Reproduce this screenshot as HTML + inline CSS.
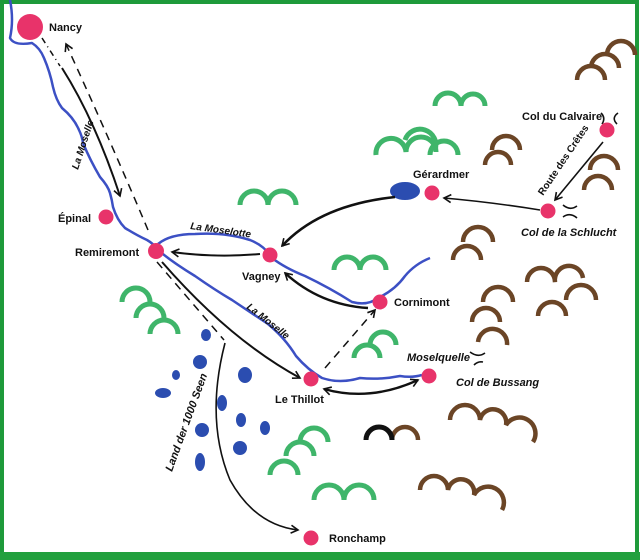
<!DOCTYPE html>
<html><head><meta charset="utf-8"><style>
html,body{margin:0;padding:0;background:#fff}
svg{display:block}
text{font-family:"Liberation Sans","DejaVu Sans",sans-serif;font-weight:bold;font-size:11px;fill:#111}
.i{font-style:italic}
.s{font-size:10px}
</style></head><body>
<svg width="640" height="560" viewBox="0 0 640 560">
<rect x="0" y="0" width="640" height="560" fill="#fff"/>
<path d="M2 560 L2 2 L637 2 L637 554 L0 554" fill="none" stroke="#1e9a3a" stroke-width="4"/>
<rect x="0" y="552" width="640" height="8" fill="#22a03e"/>
<defs>
<marker id="a" markerWidth="10" markerHeight="10" refX="8" refY="5" orient="auto" markerUnits="userSpaceOnUse">
<path d="M1 1 L8 5 L1 9" fill="none" stroke="#111" stroke-width="1.6"/></marker>
<marker id="as" markerWidth="10" markerHeight="10" refX="2" refY="5" orient="auto" markerUnits="userSpaceOnUse">
<path d="M9 1 L2 5 L9 9" fill="none" stroke="#111" stroke-width="1.6"/></marker>
</defs>
<g fill="none" stroke="#3c50c4" stroke-width="2.5" stroke-linejoin="round">
<path d="M10 0 Q14 20 10 38 Q14 46 32 43 Q40 48 44 58 Q50 72 53 87 Q56 100 62 108 Q74 118 79 130 Q82 136 83 143 Q90 160 100 177 Q108 186 110 193 Q112 200 113 207 Q117 220 125 228 Q138 236 147 240 Q154 244 158 250 Q172 262 195 276 Q215 290 232 300 Q250 312 268 324 Q285 338 296 356 Q308 370 322 378 Q340 384 360 378 Q380 380 400 376 Q412 378 422 375"/>
<path d="M158 244 Q170 234 195 234 Q225 232 250 240 Q265 246 272 258 Q285 268 305 276 Q330 288 352 302 Q368 306 378 298 Q395 290 405 276 Q415 264 430 258"/>
</g>
<g fill="#2b4db0">
<ellipse cx="206" cy="335" rx="5" ry="6"/><ellipse cx="200" cy="362" rx="7" ry="7"/>
<ellipse cx="176" cy="375" rx="4" ry="5"/><ellipse cx="163" cy="393" rx="8" ry="5"/>
<ellipse cx="245" cy="375" rx="7" ry="8"/><ellipse cx="222" cy="403" rx="5" ry="8"/>
<ellipse cx="202" cy="430" rx="7" ry="7"/><ellipse cx="241" cy="420" rx="5" ry="7"/>
<ellipse cx="265" cy="428" rx="5" ry="7"/><ellipse cx="240" cy="448" rx="7" ry="7"/>
<ellipse cx="200" cy="462" rx="5" ry="9"/>
<ellipse cx="405" cy="191" rx="15" ry="9"/>
</g>
<g fill="none" stroke="#3fb56a" stroke-width="5">
<path d="M240 205 A14 14 0 0 1 268 205 A14 14 0 0 1 296 205"/>
<path d="M435 106 A13 13 0 0 1 461 106 A12 12 0 0 1 485 106"/>
<path d="M376 155 A15 15 0 0 1 406 152 A15 15 0 0 1 436 152"/>
<path d="M405 140 A15 15 0 0 1 435 150"/>
<path d="M430 155 A14 14 0 0 1 458 155"/>
<path d="M334 270 A13 13 0 0 1 360 270 A13 13 0 0 1 386 270"/>
<path d="M122 302 A14 14 0 0 1 150 302"/><path d="M136 318 A14 14 0 0 1 164 318"/><path d="M150 334 A14 14 0 0 1 178 334"/>
<path d="M354 358 A13 13 0 0 1 380 358"/><path d="M370 345 A13 13 0 0 1 396 345"/>
<path d="M300 442 A14 14 0 0 1 328 442"/><path d="M286 456 A14 14 0 0 1 314 456"/><path d="M270 475 A14 14 0 0 1 298 475"/>
<path d="M314 500 A15 15 0 0 1 344 500 A15 15 0 0 1 374 500"/>
</g>
<g fill="none" stroke="#6b4526" stroke-width="4.5">
<path d="M577 80 A14 14 0 0 1 605 80"/><path d="M591 68 A14 14 0 0 1 619 68"/><path d="M607 55 A14 14 0 0 1 635 55"/>
<path d="M492 150 A14 14 0 0 1 520 150"/><path d="M485 165 A13 13 0 0 1 511 165"/>
<path d="M590 170 A14 14 0 0 1 618 170"/><path d="M584 190 A14 14 0 0 1 612 190"/>
<path d="M463 242 A15 15 0 0 1 493 242"/><path d="M453 260 A14 14 0 0 1 481 260"/>
<path d="M527 282 A14 14 0 0 1 555 282 A14 14 0 0 1 583 278"/>
<path d="M483 302 A15 15 0 0 1 513 302"/>
<path d="M538 316 A14 14 0 0 1 566 316"/><path d="M566 300 A15 15 0 0 1 596 300"/>
<path d="M472 322 A14 14 0 0 1 500 322"/><path d="M478 342 A14 14 0 0 1 507 345"/>
<path d="M450 420 A15 15 0 0 1 480 420 A13 13 0 0 1 506 425 A14 14 0 0 1 533 442"/>
<path d="M420 490 A14 14 0 0 1 448 490 A13 13 0 0 1 474 495 A14 14 0 0 1 502 510"/>
<path d="M392 440 A13 13 0 0 1 418 440"/>
</g>
<path d="M366 440 A13 13 0 0 1 392 440" fill="none" stroke="#111" stroke-width="5"/>
<g fill="none" stroke="#111" stroke-width="1.6">
<path d="M601 113 Q606 118 602 124"/><path d="M618 113 Q611 118 617 124"/>
<path d="M563 205 Q570 211 577 206"/><path d="M563 217 Q570 212 577 218"/>
<path d="M470 352 Q478 358 485 353"/><path d="M474 365 Q478 361 483 362"/>
</g>
<g fill="none" stroke="#111" stroke-width="2">
<path d="M62 68 Q95 120 120 196" marker-end="url(#a)"/>
<path d="M260 254 Q215 258 172 252" marker-end="url(#a)"/>
<path d="M395 197 Q320 205 282 246" marker-end="url(#a)" stroke-width="2.6"/>
<path d="M540 210 Q490 202 444 198" marker-end="url(#a)" stroke-width="1.6"/>
<path d="M603 142 L555 200" marker-end="url(#a)" stroke-width="1.6"/>
<path d="M368 308 Q320 305 285 273" marker-end="url(#a)" stroke-width="2.5"/>
<path d="M162 262 Q230 340 300 378" marker-end="url(#a)"/>
<path d="M324 389 Q370 402 418 380" marker-start="url(#as)" marker-end="url(#a)" stroke-width="2.4"/>
<path d="M225 343 Q205 420 230 480 Q255 525 298 530" marker-end="url(#a)" stroke-width="1.6"/>
</g>
<g fill="none" stroke="#111" stroke-width="1.5" stroke-dasharray="8 6">
<path d="M148 230 Q110 140 66 44" marker-end="url(#a)"/>
<path d="M157 262 L224 340"/>
<path d="M325 368 L375 310" marker-end="url(#a)"/>
</g>
<path d="M42 38 L60 66" stroke="#111" stroke-width="1.5" stroke-dasharray="6 4 1 4" fill="none"/>
<g fill="#e8336a">
<circle cx="30" cy="27" r="13"/><circle cx="106" cy="217" r="7.5"/><circle cx="156" cy="251" r="8"/>
<circle cx="270" cy="255" r="7.5"/><circle cx="432" cy="193" r="7.5"/><circle cx="548" cy="211" r="7.5"/>
<circle cx="607" cy="130" r="7.5"/><circle cx="380" cy="302" r="7.5"/><circle cx="311" cy="379" r="7.5"/>
<circle cx="429" cy="376" r="7.5"/><circle cx="311" cy="538" r="7.5"/>
</g>
<text x="49" y="31">Nancy</text>
<text x="58" y="222">Épinal</text>
<text x="75" y="256">Remiremont</text>
<text x="242" y="280">Vagney</text>
<text x="413" y="178">Gérardmer</text>
<text x="521" y="236" class="i">Col de la Schlucht</text>
<text x="522" y="120">Col du Calvaire</text>
<text x="394" y="306">Cornimont</text>
<text x="275" y="403">Le Thillot</text>
<text x="407" y="361" class="i">Moselquelle</text>
<text x="456" y="386" class="i">Col de Bussang</text>
<text x="329" y="542">Ronchamp</text>
<text x="190" y="229" class="i s" transform="rotate(8 190 229)">La Moselotte</text>
<text x="0" y="0" class="i s" transform="translate(78 170) rotate(-72)">La Moselle</text>
<text x="0" y="0" class="i s" transform="translate(246 308) rotate(38)">La Moselle</text>
<text x="0" y="0" class="s" transform="translate(543 196) rotate(-56)">Route des Crêtes</text>
<text x="0" y="0" class="i" transform="translate(172 472) rotate(-70)">Land der 1000 Seen</text>
</svg>
</body></html>
